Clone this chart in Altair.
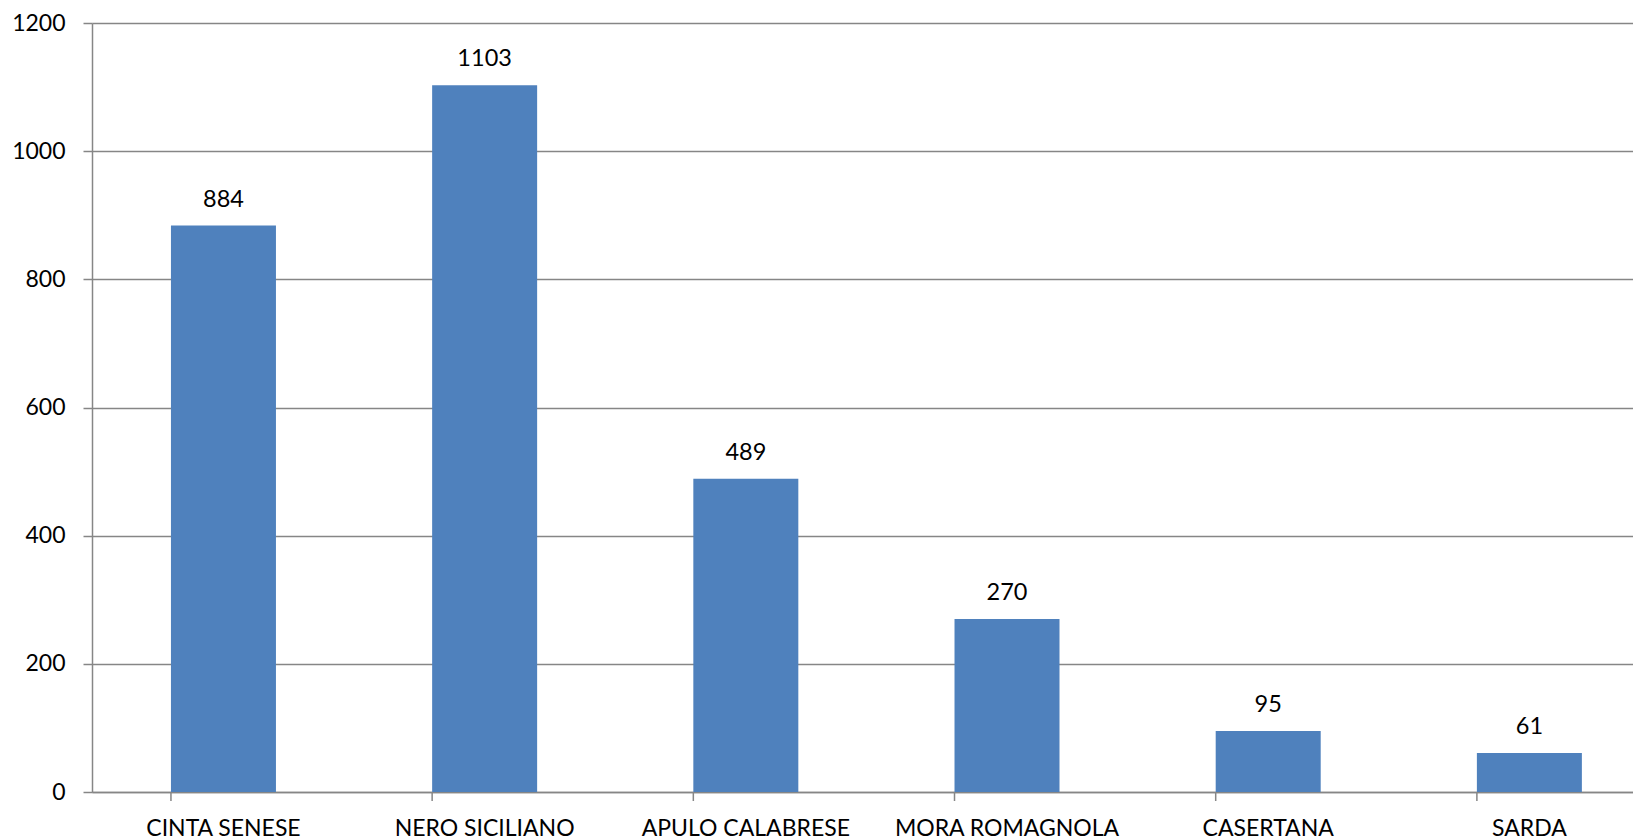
import altair as alt
import pandas as pd

categories = ["CINTA SENESE", "NERO SICILIANO", "APULO CALABRESE", "MORA ROMAGNOLA", "CASERTANA", "SARDA"]
values = [884, 1103, 489, 270, 95, 61]
y_ticks = [0, 200, 400, 600, 800, 1000, 1200]

df = pd.DataFrame({"cat": categories, "val": values})

GRAY = "#868686"
FONT = "Lato"

xscale = alt.Scale(paddingInner=0.598, paddingOuter=0.249, align=0.607)

base = alt.Chart(df)

bars = base.mark_bar(color="#4F81BD").encode(
    x=alt.X("cat:N", sort=categories, scale=xscale,
            axis=alt.Axis(title=None, labelAngle=0, ticks=False, tickSize=0,
                          labelPadding=43, labelBaseline="alphabetic",
                          labelFont=FONT, labelFontSize=23, labelColor="black",
                          labelLimit=500, labelOverlap=False,
                          domainColor=GRAY, domainWidth=1.5, grid=False)),
    y=alt.Y("val:Q", scale=alt.Scale(domain=[0, 1200], nice=False),
            axis=alt.Axis(title=None, values=y_ticks, format="d", grid=True, gridColor=GRAY,
                          gridWidth=1.5, tickSize=9, tickColor=GRAY, tickWidth=1.5,
                          domainColor=GRAY, domainWidth=1.5, labelPadding=18,
                          labelFont=FONT, labelFontSize=23, labelColor="black")),
)

text = base.mark_text(baseline="alphabetic", dy=-19, font=FONT, fontSize=23.5, color="black").encode(
    x=alt.X("cat:N", sort=categories, scale=xscale),
    y=alt.Y("val:Q"),
    text=alt.Text("val:Q"),
)

xticks = base.mark_rule(color=GRAY, strokeWidth=1.5).encode(
    x=alt.X("cat:N", sort=categories, scale=xscale, bandPosition=0),
    y=alt.value(769),
    y2=alt.value(778),
)

chart = alt.layer(bars, text, xticks).properties(
    width=1541, height=769,
    autosize=alt.AutoSizeParams(type="none"),
    padding={"left": 84, "top": 15, "right": 0, "bottom": 47},
).configure_view(stroke=None)

chart.save("out.html", embed_options={"renderer": "svg", "actions": False})
